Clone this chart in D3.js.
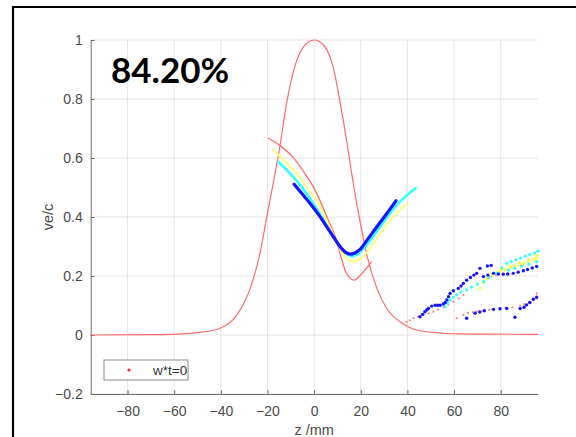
<!DOCTYPE html>
<html lang="en">
<head>
    <meta charset="UTF-8">
    <title>ve/c</title>
    <script src="https://cdn.jsdelivr.net/npm/d3@7"></script>
    <style>
        body { margin: 0; background: #fff; }
        text { font-family: "Liberation Sans", Arial, sans-serif; }
    </style>
</head>
<body>
<script>
    // gaussian profile (red, thin)
    const gaussZ = [-96, -70, -61.7, -50, -40.3, -33.1, -27.4, -23.1, -20.3, -17.4, -14.6, -11.7, -8.9, -4.6, 0,
        4, 8.3, 11.1, 14, 16.9, 19.7, 22.6, 26.9, 31.1, 36.9, 44, 55.4, 62.6, 75, 96]
    const gaussV = [0, 0.001, 0.002, 0.008, 0.023, 0.068, 0.158, 0.282, 0.401, 0.52, 0.644, 0.79, 0.893, 0.977, 1.0,
        0.983, 0.904, 0.79, 0.655, 0.508, 0.384, 0.271, 0.158, 0.09, 0.045, 0.017, 0.006, 0.004, 0.003, 0.002]

    // w*t=0 curves
    const redZ = [-19.6, -14.6, -9, -4, 0, 3, 6, 9, 11.5, 13.5, 15.5, 17.2, 19.5, 22, 24.5]
    const redV = [0.667, 0.642, 0.602, 0.548, 0.497, 0.447, 0.39, 0.335, 0.265, 0.215, 0.192, 0.186, 0.2, 0.222, 0.247]
    const yellowZ = [-17.9, -12, -7.5, -3, 1.1, 5, 8, 11, 13.5, 16, 18.5, 21.1, 24.5, 28.3, 34, 39.7]
    const yellowV = [0.63, 0.585, 0.548, 0.5, 0.456, 0.395, 0.345, 0.295, 0.262, 0.249, 0.252, 0.266, 0.3, 0.345, 0.401, 0.446]
    const cyanZ = [-15.3, -11, -7.5, -3, 1.1, 5, 8.3, 11, 13.5, 16, 18.5, 21.1, 24.5, 28.3, 35.4, 40, 43.5]
    const cyanV = [0.587, 0.553, 0.523, 0.476, 0.428, 0.376, 0.333, 0.3, 0.279, 0.267, 0.273, 0.292, 0.326, 0.367, 0.441, 0.475, 0.497]
    const blueZ = [-8.6, -5, -1.7, 2, 5.4, 8.5, 11.1, 13.5, 15.4, 17.5, 19.7, 23, 26.9, 31, 35.1]
    const blueV = [0.511, 0.477, 0.446, 0.407, 0.367, 0.33, 0.3, 0.28, 0.274, 0.278, 0.29, 0.325, 0.367, 0.41, 0.455]

    // scattered tail points, z > 40
    const redDotsZ = [39.7, 41, 42.6, 44.5, 46.9, 49, 51.1, 53.2, 55.4, 57.5, 59.7, 62, 64, 61.1, 64, 66, 68, 69.7, 72, 75, 77, 79.7, 82, 85, 88.3, 90, 92, 94, 95.4, 95.4, 76, 78]
    const redDotsV = [0.045, 0.05, 0.057, 0.062, 0.068, 0.073, 0.079, 0.086, 0.094, 0.103, 0.113, 0.124, 0.136, 0.057, 0.068, 0.075, 0.078, 0.08, 0.082, 0.085, 0.087, 0.09, 0.092, 0.095, 0.1, 0.105, 0.11, 0.118, 0.141, 0.124, 0.2, 0.203]
    const blueDotsZ = [45.4, 46.5, 47.5, 48.3, 49, 50.4, 51.9, 53, 54, 55.4, 56.2, 56.9, 57.6, 58.3, 59.7, 61.8, 63, 64, 65.4, 67, 68.5, 69.7, 71.1, 74.3, 75.9,
        72.6, 74.5, 76.9, 79, 81.1, 83, 85.4, 87.5, 89.7, 91.5, 93.5, 95.4,
        65.4, 69, 71, 73, 76.9, 79.7, 82.6, 86.1, 88.3, 90, 91.1, 92.5, 94, 95.4]
    const blueDotsV = [0.062, 0.07, 0.079, 0.085, 0.09, 0.098, 0.101, 0.101, 0.101, 0.105, 0.11, 0.119, 0.13, 0.141, 0.15, 0.158, 0.166, 0.175, 0.186, 0.195, 0.203, 0.209, 0.226, 0.234, 0.236,
        0.198, 0.203, 0.209, 0.207, 0.206, 0.207, 0.209, 0.213, 0.218, 0.222, 0.227, 0.232,
        0.057, 0.074, 0.078, 0.082, 0.087, 0.089, 0.09, 0.06, 0.09, 0.094, 0.102, 0.11, 0.121, 0.128]
    const cyanDotsZ = [56.1, 57.2, 58.3, 59.7, 61.1, 63, 65.4, 67.5, 70, 72.6, 75, 78.3, 80.5, 82.6, 84.5, 86.5, 88.5, 90.5, 92.5, 94.5, 96,
        83.3, 86, 89, 92, 95.4]
    const cyanDotsV = [0.096, 0.108, 0.119, 0.128, 0.136, 0.146, 0.153, 0.162, 0.172, 0.181, 0.195, 0.209, 0.228, 0.243, 0.249, 0.255, 0.261, 0.267, 0.273, 0.278, 0.284,
        0.22, 0.226, 0.233, 0.24, 0.248]
    const yellowDotsZ = [71.1, 72.5, 74, 76, 79.7, 82, 84, 86, 88.3, 90, 92, 94, 95.4, 80, 84, 88, 92, 95.4]
    const yellowDotsV = [0.158, 0.178, 0.192, 0.205, 0.215, 0.222, 0.228, 0.233, 0.237, 0.242, 0.248, 0.254, 0.26, 0.222, 0.234, 0.246, 0.256, 0.27]

    const xTicks = [-80, -60, -40, -20, 0, 20, 40, 60, 80]
    const yTicks = [-0.2, 0, 0.2, 0.4, 0.6, 0.8, 1]

    const [width, height] = [576, 437]
    const svg = d3.select('body').append('svg')
        .attr('width', width).attr('height', height)

    const x = d3.scaleLinear().domain([-95.8, 95.9]).range([90.7, 537.8])
    const y = d3.scaleLinear().domain([-0.2, 1]).range([394, 40])

    // outer frame
    svg.append('path')
        .attr('d', 'M13,437 L13,7 L576,7')
        .attr('fill', 'none').attr('stroke', '#000').attr('stroke-width', 2.2)

    // grid
    svg.append('g').selectAll('line').data(xTicks).enter().append('line')
        .attr('x1', d => x(d)).attr('x2', d => x(d))
        .attr('y1', y(-0.2)).attr('y2', y(1))
        .attr('stroke', '#e6e6e6').attr('stroke-width', 1)
    svg.append('g').selectAll('line').data(yTicks).enter().append('line')
        .attr('x1', x.range()[0]).attr('x2', x.range()[1])
        .attr('y1', d => y(d)).attr('y2', d => y(d))
        .attr('stroke', '#e6e6e6').attr('stroke-width', 1)

    // axes, ticks inward
    const xAxis = d3.axisBottom(x).tickValues(xTicks).tickSizeInner(-4).tickSizeOuter(0).tickPadding(12)
    const yAxis = d3.axisLeft(y).tickValues(yTicks).tickSizeInner(-4).tickSizeOuter(0).tickPadding(8)
        .tickFormat(d => d3.format('')(+d.toFixed(1)))
    const gx = svg.append('g').attr('transform', `translate(0,${y(-0.2)})`).call(xAxis)
    const gy = svg.append('g').attr('transform', `translate(${x.range()[0]},0)`).call(yAxis)
    ;[gx, gy].forEach(g => {
        g.select('.domain').attr('stroke', '#6e6e6e')
        g.selectAll('.tick line').attr('stroke', '#6e6e6e')
        g.selectAll('.tick text').attr('fill', '#4a4a4a').style('font-size', '14px')
            .style('font-family', '"Liberation Sans", Arial, sans-serif')
    })

    svg.append('text').attr('x', x(0)).attr('y', 435)
        .attr('text-anchor', 'middle').attr('fill', '#4a4a4a').style('font-size', '14.5px')
        .text('z /mm')
    svg.append('text').attr('transform', `translate(53,${y(0.4)}) rotate(-90)`)
        .attr('text-anchor', 'middle').attr('fill', '#4a4a4a').style('font-size', '14.5px')
        .text('ve/c')

    const plot = svg.append('g')
    const line = d3.line().x(d => x(d[0])).y(d => y(d[1])).curve(d3.curveMonotoneX)
    const zip = (a, b) => a.map((v, i) => [v, b[i]])

    plot.append('path').datum(zip(gaussZ, gaussV))
        .attr('d', line)
        .attr('fill', 'none').attr('stroke', '#ff6b6b').attr('stroke-width', 1.2)

    const curves = [
        [redZ, redV, '#ff6b6b', 1.3],
        [yellowZ, yellowV, '#ffff70', 1.8],
        [cyanZ, cyanV, '#33ffff', 2.6],
        [blueZ, blueV, '#1414ff', 3.2]
    ]
    curves.forEach(([zs, vs, c, w]) => {
        plot.append('path').datum(zip(zs, vs))
            .attr('d', line)
            .attr('fill', 'none').attr('stroke', c).attr('stroke-width', w)
            .attr('stroke-linecap', 'round')
    })

    const dots = [
        [redDotsZ, redDotsV, '#ff8080', 1.1],
        [yellowDotsZ, yellowDotsV, '#ffff50', 1.8],
        [cyanDotsZ, cyanDotsV, '#33ffff', 1.6],
        [blueDotsZ, blueDotsV, '#1414ff', 1.7]
    ]
    dots.forEach(([zs, vs, c, r]) => {
        plot.append('g').selectAll('circle').data(zip(zs, vs)).enter().append('circle')
            .attr('cx', d => x(d[0])).attr('cy', d => y(d[1])).attr('r', r)
            .attr('fill', c)
    })

    // legend
    const lg = svg.append('g').attr('transform', 'translate(104,360)')
    lg.append('rect').attr('width', 84).attr('height', 20)
        .attr('fill', '#fff').attr('stroke', '#8a8a8a').attr('stroke-width', 1)
    lg.append('circle').attr('cx', 25).attr('cy', 10).attr('r', 1.6).attr('fill', '#ff2020')
    lg.append('text').attr('x', 49).attr('y', 15).attr('fill', '#333').style('font-size', '13.5px')
        .text('w*t=0')

    // big label
    svg.append('text').attr('x', 111).attr('y', 83)
        .style('font-family', 'Lato, "Open Sans", sans-serif').style('font-weight', 'bold')
        .style('font-size', '35px').attr('fill', '#000')
        .text('84.20%')
</script>
</body>
</html>
